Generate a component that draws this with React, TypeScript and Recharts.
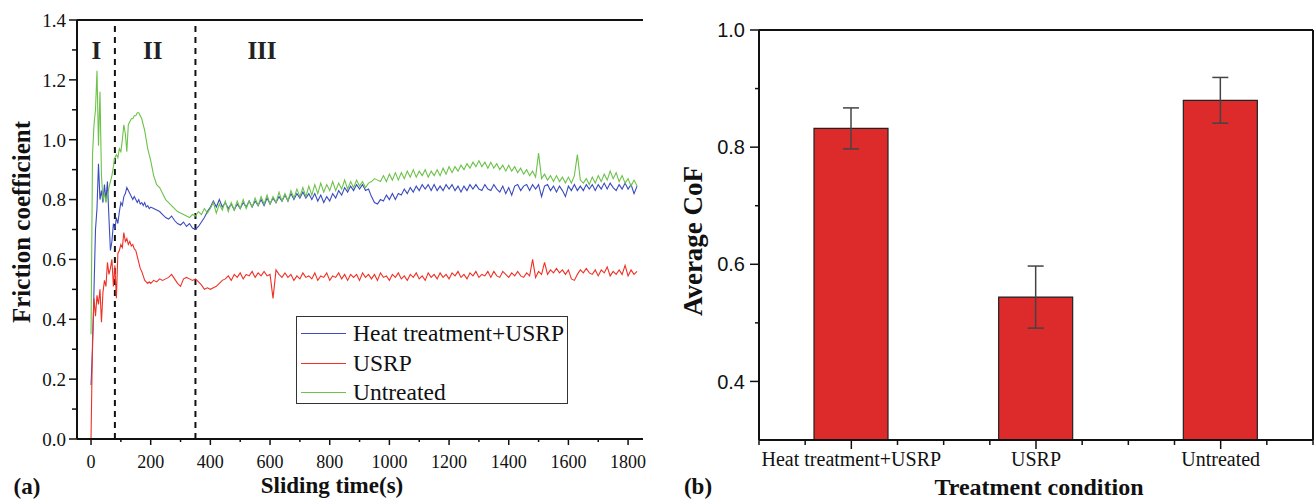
import React from 'react';
import {
  LineChart, Line, XAxis, YAxis, ReferenceLine, ReferenceDot, Legend,
  ComposedChart, Bar, ErrorBar,
} from 'recharts';

const SERIF = '"Liberation Serif", "Times New Roman", serif';
const SANS = '"Liberation Sans", Arial, sans-serif';

const BLUE = '#3a4cbf';
const RED = '#ef3125';
const GREEN = '#6cc24a';
const BAR_RED = '#dd2a2b';
const INK = '#111';

// ---- (a) friction coefficient vs sliding time ----
const timeS = [
  0, 5, 10, 15, 20, 25, 30, 35, 40, 45,
  50, 55, 60, 65, 70, 75, 80, 85, 90, 95,
  100, 105, 110, 115, 120, 125, 130, 135, 140, 145,
  150, 155, 160, 165, 170, 175, 180, 185, 190, 195,
  200, 210, 220, 230, 240, 250, 260, 270, 280, 290,
  300, 310, 320, 330, 340, 350, 360, 370, 380, 390,
  400, 410, 420, 430, 440, 450, 460, 470, 480, 490,
  500, 510, 520, 530, 540, 550, 560, 570, 580, 590,
  600, 610, 620, 630, 640, 650, 660, 670, 680, 690,
  700, 710, 720, 730, 740, 750, 760, 770, 780, 790,
  800, 810, 820, 830, 840, 850, 860, 870, 880, 890,
  900, 910, 920, 930, 940, 950, 960, 970, 980, 990,
  1000, 1010, 1020, 1030, 1040, 1050, 1060, 1070, 1080, 1090,
  1100, 1110, 1120, 1130, 1140, 1150, 1160, 1170, 1180, 1190,
  1200, 1210, 1220, 1230, 1240, 1250, 1260, 1270, 1280, 1290,
  1300, 1310, 1320, 1330, 1340, 1350, 1360, 1370, 1380, 1390,
  1400, 1410, 1420, 1430, 1440, 1450, 1460, 1470, 1480, 1490,
  1500, 1510, 1520, 1530, 1540, 1550, 1560, 1570, 1580, 1590,
  1600, 1610, 1620, 1630, 1640, 1650, 1660, 1670, 1680, 1690,
  1700, 1710, 1720, 1730, 1740, 1750, 1760, 1770, 1780, 1790,
  1800, 1810, 1820, 1830,
];

const heatUsrp = [
  0.18, 0.30, 0.50, 0.70, 0.77, 0.92, 0.80, 0.83, 0.79, 0.85,
  0.80, 0.86, 0.74, 0.63, 0.66, 0.72, 0.70, 0.74, 0.72, 0.76,
  0.79, 0.78, 0.81, 0.82, 0.84, 0.83, 0.82, 0.81, 0.80, 0.81,
  0.80, 0.79, 0.80, 0.785, 0.79, 0.78, 0.79, 0.775, 0.78, 0.77,
  0.775, 0.77, 0.765, 0.76, 0.75, 0.74, 0.735, 0.745, 0.73, 0.72,
  0.715, 0.725, 0.71, 0.72, 0.705, 0.70, 0.71, 0.725, 0.74, 0.76,
  0.775, 0.795, 0.775, 0.80, 0.775, 0.79, 0.77, 0.785, 0.765, 0.785,
  0.77, 0.79, 0.775, 0.795, 0.775, 0.795, 0.78, 0.80, 0.78, 0.805,
  0.785, 0.805, 0.79, 0.81, 0.795, 0.815, 0.795, 0.82, 0.80, 0.82,
  0.805, 0.825, 0.805, 0.82, 0.80, 0.82, 0.795, 0.815, 0.79, 0.81,
  0.795, 0.82, 0.805, 0.83, 0.815, 0.84, 0.825, 0.845, 0.83, 0.85,
  0.835, 0.85, 0.83, 0.835, 0.81, 0.79, 0.785, 0.80, 0.795, 0.815,
  0.80, 0.82, 0.80, 0.82, 0.815, 0.835, 0.82, 0.84, 0.825, 0.845,
  0.83, 0.85, 0.835, 0.85, 0.83, 0.85, 0.83, 0.845, 0.83, 0.85,
  0.835, 0.85, 0.83, 0.845, 0.825, 0.845, 0.83, 0.85, 0.835, 0.85,
  0.835, 0.83, 0.85, 0.835, 0.83, 0.85, 0.835, 0.825, 0.845, 0.82,
  0.84, 0.815, 0.845, 0.85, 0.83, 0.845, 0.85, 0.83, 0.85, 0.835,
  0.85, 0.81, 0.845, 0.85, 0.83, 0.845, 0.825, 0.845, 0.83, 0.81,
  0.845, 0.83, 0.85, 0.83, 0.845, 0.83, 0.85, 0.835, 0.85, 0.83,
  0.85, 0.835, 0.855, 0.835, 0.855, 0.84, 0.83, 0.85, 0.835, 0.855,
  0.835, 0.85, 0.82, 0.845,
];

const usrpOnly = [
  0.00, 0.33, 0.47, 0.41, 0.48, 0.45, 0.50, 0.39, 0.49, 0.53,
  0.51, 0.59, 0.55, 0.57, 0.60, 0.51, 0.58, 0.47, 0.62, 0.63,
  0.65, 0.64, 0.69, 0.66, 0.67, 0.65, 0.66, 0.645, 0.65, 0.635,
  0.63, 0.61, 0.59, 0.57, 0.56, 0.545, 0.53, 0.525, 0.52, 0.525,
  0.52, 0.53, 0.525, 0.535, 0.53, 0.535, 0.54, 0.55, 0.535, 0.52,
  0.51, 0.535, 0.54, 0.535, 0.53, 0.535, 0.525, 0.515, 0.50, 0.505,
  0.50, 0.505, 0.51, 0.52, 0.53, 0.535, 0.545, 0.53, 0.55, 0.54,
  0.555, 0.535, 0.55, 0.545, 0.56, 0.54, 0.555, 0.545, 0.56, 0.545,
  0.55, 0.47, 0.565, 0.55, 0.54, 0.555, 0.54, 0.55, 0.53, 0.545,
  0.535, 0.555, 0.54, 0.545, 0.535, 0.555, 0.53, 0.545, 0.54, 0.555,
  0.53, 0.545, 0.54, 0.555, 0.535, 0.55, 0.53, 0.55, 0.54, 0.55,
  0.53, 0.555, 0.54, 0.55, 0.535, 0.55, 0.53, 0.555, 0.54, 0.545,
  0.53, 0.55, 0.54, 0.555, 0.535, 0.545, 0.53, 0.55, 0.54, 0.555,
  0.535, 0.545, 0.53, 0.555, 0.54, 0.55, 0.535, 0.555, 0.54, 0.55,
  0.535, 0.555, 0.545, 0.56, 0.54, 0.55, 0.535, 0.555, 0.545, 0.56,
  0.54, 0.55, 0.545, 0.56, 0.54, 0.56, 0.545, 0.54, 0.56, 0.55,
  0.54, 0.555, 0.545, 0.56, 0.545, 0.54, 0.555, 0.545, 0.60, 0.54,
  0.56, 0.55, 0.59, 0.55, 0.565, 0.555, 0.57, 0.555, 0.565, 0.55,
  0.565, 0.535, 0.53, 0.55, 0.565, 0.555, 0.57, 0.555, 0.55, 0.565,
  0.545, 0.565, 0.555, 0.575, 0.545, 0.56, 0.55, 0.565, 0.55, 0.58,
  0.545, 0.565, 0.55, 0.56,
];

const untreated = [
  0.35, 0.95, 1.05, 1.10, 1.23, 0.98, 1.16, 0.88, 0.80, 0.82,
  0.79, 0.81, 0.84, 0.86, 0.88, 0.91, 0.94, 0.95, 0.94, 0.97,
  0.96, 1.00, 1.05, 1.02, 0.96, 1.05, 1.06, 1.07, 1.07, 1.08,
  1.08, 1.09, 1.09, 1.08, 1.07, 1.05, 1.03, 1.00, 0.97, 0.95,
  0.93, 0.88, 0.85, 0.84, 0.82, 0.80, 0.79, 0.78, 0.77, 0.76,
  0.755, 0.75, 0.745, 0.74, 0.75, 0.745, 0.76, 0.75, 0.77, 0.755,
  0.77, 0.79, 0.755, 0.785, 0.765, 0.795, 0.76, 0.79, 0.765, 0.795,
  0.77, 0.80, 0.77, 0.795, 0.775, 0.805, 0.78, 0.81, 0.785, 0.815,
  0.785, 0.81, 0.79, 0.825, 0.795, 0.82, 0.795, 0.83, 0.805, 0.835,
  0.81, 0.84, 0.81, 0.845, 0.815, 0.85, 0.82, 0.855, 0.825, 0.85,
  0.83, 0.86, 0.83, 0.855, 0.835, 0.865, 0.835, 0.86, 0.84, 0.865,
  0.845, 0.86, 0.84, 0.855, 0.86, 0.87, 0.865, 0.86, 0.88, 0.86,
  0.885, 0.865, 0.89, 0.865, 0.89, 0.87, 0.895, 0.875, 0.90, 0.875,
  0.895, 0.88, 0.90, 0.875, 0.895, 0.88, 0.90, 0.88, 0.905, 0.885,
  0.91, 0.89, 0.91, 0.895, 0.915, 0.90, 0.92, 0.905, 0.925, 0.91,
  0.93, 0.91, 0.925, 0.905, 0.925, 0.905, 0.92, 0.90, 0.915, 0.895,
  0.915, 0.895, 0.91, 0.89, 0.905, 0.885, 0.90, 0.88, 0.895, 0.875,
  0.955, 0.87, 0.885, 0.865, 0.88, 0.86, 0.88, 0.86, 0.875, 0.855,
  0.875, 0.855, 0.88, 0.95, 0.865, 0.855, 0.87, 0.85, 0.875, 0.855,
  0.88, 0.86, 0.885, 0.865, 0.895, 0.87, 0.89, 0.86, 0.88, 0.855,
  0.87, 0.845, 0.865, 0.845,
];

const timeTicks = [0, 100, 200, 300, 400, 500, 600, 700, 800, 900, 1000, 1100, 1200, 1300, 1400, 1500, 1600, 1700, 1800];
const frictionTicks = [0, 0.1, 0.2, 0.3, 0.4, 0.5, 0.6, 0.7, 0.8, 0.9, 1.0, 1.1, 1.2, 1.3, 1.4];
const stageBounds = [80, 350];
const stageNames = ['I', 'II', 'III'];
const stageLabelX = [18, 207, 573];
const stageLabelY = 1.3;

// ---- (b) average CoF per treatment ----
const conditions = ['Heat treatment+USRP', 'USRP', 'Untreated'];
const conditionPos = [1, 2, 3];
const avgCoF = [0.832, 0.544, 0.880];
const cofErr = [0.035, 0.053, 0.039];
const conditionTicks = [0.5, 0.75, 1, 1.25, 1.5, 1.75, 2, 2.25, 2.5, 2.75, 3, 3.25, 3.5];
const cofTicks = [0.4, 0.5, 0.6, 0.7, 0.8, 0.9, 1.0];

const frictionData = timeS.map((t, i) => ({
  t, heat: heatUsrp[i], usrp: usrpOnly[i], untreated: untreated[i],
}));

const cofData = conditions.map((name, i) => ({
  name, pos: conditionPos[i], cof: avgCoF[i], err: cofErr[i],
}));

/** tick drawn by hand so that major and minor ticks can have different lengths */
function AxisTick(props: any) {
  const { x, y, payload, side, isMajor, fmt, majorLen, minorLen, gap, ff, fs } = props;
  const v = payload.value;
  const major = isMajor(v);
  const len = major ? majorLen : minorLen;
  if (side === 'bottom') {
    return (
      <g>
        <line x1={x} x2={x} y1={y} y2={y + len} stroke={INK} strokeWidth={1.5} />
        {major && (
          <text x={x} y={y + majorLen + gap} dy="0.75em" textAnchor="middle"
            fontFamily={ff} fontSize={fs} fill={INK}>{fmt(v)}</text>
        )}
      </g>
    );
  }
  if (side === 'left') {
    return (
      <g>
        <line x1={x - len} x2={x} y1={y} y2={y} stroke={INK} strokeWidth={1.5} />
        {major && (
          <text x={x - majorLen - gap} y={y} dy="0.36em" textAnchor="end"
            fontFamily={ff} fontSize={fs} fill={INK}>{fmt(v)}</text>
        )}
      </g>
    );
  }
  // inward ticks on the right frame
  return <line x1={x - len} x2={x} y1={y} y2={y} stroke={INK} strokeWidth={1.5} />;
}

function LegendBox({ payload }: any) {
  return (
    <div style={{
      width: 272, height: 88, boxSizing: 'border-box', border: '1.5px solid #333',
      background: '#fff', padding: '2px 0 0 4px',
    }}>
      {(payload || []).map((p: any) => (
        <div key={p.value} style={{ display: 'flex', alignItems: 'center', height: 29.5 }}>
          <span style={{ width: 45, borderTop: `1.5px solid ${p.color}` }} />
          <span style={{ marginLeft: 7, fontFamily: SERIF, fontSize: 23.5, color: INK, lineHeight: 1 }}>
            {p.value}
          </span>
        </div>
      ))}
    </div>
  );
}

function Title({ x, y, text, rotate = false, size = 20 }: { x: number; y: number; text: string; rotate?: boolean; size?: number }) {
  return (
    <div style={{
      position: 'absolute', left: x, top: y, whiteSpace: 'nowrap',
      transform: `translate(-50%, -50%)${rotate ? ' rotate(-90deg)' : ''}`,
      fontFamily: SERIF, fontWeight: 700, fontSize: size, color: INK, lineHeight: 1,
    }}>{text}</div>
  );
}

const isEven100 = (v: number) => Math.round(v) % 200 === 0;
const isEvenTenth = (v: number) => Math.round(v * 10) % 2 === 0;
const isInteger = (v: number) => Math.abs(v - Math.round(v)) < 1e-6;

export default function App() {
  return (
    <div style={{ position: 'absolute', left: 0, top: 0, width: 1316, height: 499, background: '#fff', overflow: 'hidden' }}>
      <div style={{ position: 'absolute', left: 0, top: 0 }}>
        <LineChart width={660} height={499} data={frictionData}
          margin={{ top: 20, right: 17, bottom: 30, left: 0 }}>
          <XAxis dataKey="t" type="number" domain={[-47, 1850]} allowDataOverflow
            ticks={timeTicks} interval={0} height={30} tickSize={0} tickMargin={0} tickLine={false}
            axisLine={{ stroke: INK, strokeWidth: 2 }}
            tick={<AxisTick side="bottom" isMajor={isEven100} fmt={(v: number) => String(v)}
              majorLen={6} minorLen={3} gap={9} ff={SERIF} fs={18} />} />
          <YAxis type="number" domain={[0, 1.4]} allowDataOverflow ticks={frictionTicks} interval={0}
            width={77} tickSize={0} tickMargin={0} tickLine={false}
            axisLine={{ stroke: INK, strokeWidth: 2 }}
            tick={<AxisTick side="left" isMajor={isEvenTenth} fmt={(v: number) => v.toFixed(1)}
              majorLen={8} minorLen={5} gap={3} ff={SERIF} fs={19} />} />
          <YAxis yAxisId="frame" orientation="right" type="number" domain={[0, 1.4]} allowDataOverflow
            ticks={frictionTicks.slice(1, -1)} interval={0} width={0} tickSize={0} tickMargin={0} tickLine={false}
            axisLine={{ stroke: INK, strokeWidth: 2 }}
            tick={<AxisTick side="inner" isMajor={() => true} fmt={() => ''} majorLen={8} minorLen={8} gap={0} />} />
          <ReferenceLine y={1.4} stroke={INK} strokeWidth={2} />
          {stageBounds.map((b) => (
            <ReferenceLine key={b} x={b} stroke={INK} strokeWidth={2} strokeDasharray="6 5" />
          ))}
          {stageNames.map((s, i) => (
            <ReferenceDot key={s} x={stageLabelX[i]} y={stageLabelY} r={0} fill="none" stroke="none"
              label={{ value: s, position: 'center', fontFamily: SERIF, fontSize: 25, fontWeight: 700, fill: '#222' }} />
          ))}
          <Line type="linear" dataKey="heat" name="Heat treatment+USRP" stroke={BLUE} strokeWidth={1.1}
            dot={false} isAnimationActive={false} />
          <Line type="linear" dataKey="usrp" name="USRP" stroke={RED} strokeWidth={1.1}
            dot={false} isAnimationActive={false} />
          <Line type="linear" dataKey="untreated" name="Untreated" stroke={GREEN} strokeWidth={1.1}
            dot={false} isAnimationActive={false} />
          <Legend layout="vertical" align="center" verticalAlign="middle" content={<LegendBox />}
            wrapperStyle={{ left: 296, top: 316, width: 272, height: 88, right: 'auto', bottom: 'auto' }} />
        </LineChart>
      </div>

      <div style={{ position: 'absolute', left: 680, top: 0 }}>
        <ComposedChart width={636} height={499} data={cofData}
          margin={{ top: 30, right: 3, bottom: 29, left: 0 }}>
          <XAxis dataKey="pos" type="number" domain={[0.5, 3.5]} allowDataOverflow
            ticks={conditionTicks} interval={0} height={30} tickSize={0} tickMargin={0} tickLine={false}
            axisLine={{ stroke: INK, strokeWidth: 2 }}
            tick={<AxisTick side="bottom" isMajor={isInteger}
              fmt={(v: number) => conditions[conditionPos.indexOf(Math.round(v))] ?? ''}
              majorLen={9} minorLen={5} gap={2} ff={SERIF} fs={20} />} />
          <YAxis type="number" domain={[0.3, 1.0]} allowDataOverflow ticks={cofTicks} interval={0}
            width={79} tickSize={0} tickMargin={0} tickLine={false}
            axisLine={{ stroke: INK, strokeWidth: 2 }}
            tick={<AxisTick side="left" isMajor={isEvenTenth} fmt={(v: number) => v.toFixed(1)}
              majorLen={9} minorLen={4} gap={5} ff={SANS} fs={20} />} />
          <ReferenceLine y={1.0} stroke={INK} strokeWidth={2} />
          <ReferenceLine x={3.5} stroke={INK} strokeWidth={2} />
          <Bar dataKey="cof" barSize={74} fill={BAR_RED} stroke="#222" strokeWidth={1.2}
            isAnimationActive={false}>
            <ErrorBar dataKey="err" width={8} stroke="#444" strokeWidth={1.5} direction="y" />
          </Bar>
        </ComposedChart>
      </div>

      <Title x={21} y={222} text="Friction coefficient" rotate size={25} />
      <Title x={332} y={485} text="Sliding time(s)" size={23} />
      <Title x={27} y={486} text="(a)" size={23} />
      <Title x={693} y={241} text="Average CoF" rotate size={27} />
      <Title x={1039} y={486.5} text="Treatment condition" size={24} />
      <Title x={698} y={486} text="(b)" size={23} />
    </div>
  );
}
